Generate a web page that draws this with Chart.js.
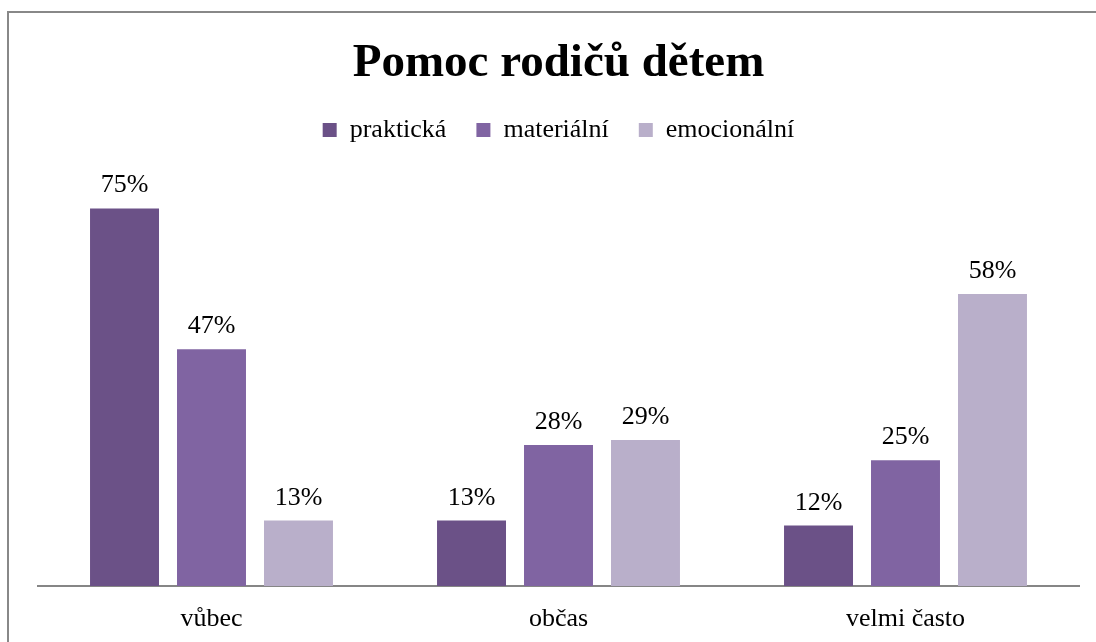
<!DOCTYPE html>
<html>
<head>
<meta charset="utf-8">
<script src="https://cdn.jsdelivr.net/npm/chart.js@4.4.0/dist/chart.umd.min.js"></script>
<style>
  html, body { margin: 0; padding: 0; background: #fff; }
  #wrap { position: relative; width: 1096px; height: 642px; overflow: hidden; }
  #frame { position: absolute; left: 7px; top: 11px; width: 1200px; height: 700px;
           border-left: 2px solid #888; border-top: 2px solid #888; }
  canvas { position: absolute; left: 0; top: 0; }
</style>
</head>
<body>
<div id="wrap">
  <div id="frame"></div>
  <canvas id="chart" width="1096" height="642"></canvas>
</div>
<script>
// Kategorie a hodnoty
const categories = ['vůbec', 'občas', 'velmi často'];
const prakticka = [75, 13, 12];
const materialni = [47, 28, 25];
const emocionalni = [13, 29, 58];
const seriesNames = ['praktická', 'materiální', 'emocionální'];
const seriesColors = ['#6B5187', '#8064A2', '#B9AFCA'];

const serif = '"Liberation Serif", "Times New Roman", serif';

// Popisky hodnot nad sloupci
const valueLabels = {
    id: 'valueLabels',
    afterDatasetsDraw(chart) {
        const ctx = chart.ctx;
        ctx.save();
        ctx.font = '26px ' + serif;
        ctx.fillStyle = '#000';
        ctx.textAlign = 'center';
        ctx.textBaseline = 'alphabetic';
        chart.data.datasets.forEach((ds, i) => {
            chart.getDatasetMeta(i).data.forEach((bar, j) => {
                ctx.fillText(ds.data[j] + '%', bar.x, bar.y - 16);
            });
        });
        ctx.restore();
    }
};

new Chart(document.getElementById('chart'), {
    type: 'bar',
    data: {
        labels: categories,
        datasets: [
            { label: seriesNames[0], data: prakticka, backgroundColor: seriesColors[0] },
            { label: seriesNames[1], data: materialni, backgroundColor: seriesColors[1] },
            { label: seriesNames[2], data: emocionalni, backgroundColor: seriesColors[2] }
        ]
    },
    options: {
        responsive: false,
        animation: false,
        categoryPercentage: 0.752,
        barPercentage: 0.793,
        layout: { padding: { left: 38, right: 17, top: 14, bottom: 0 } },
        scales: {
            x: {
                grid: { display: false, drawTicks: false },
                border: { display: true, color: '#868686', width: 2 },
                ticks: { color: '#000', font: { family: serif, size: 26 }, padding: 18 },
                afterFit: (scale) => { scale.height = 56; }
            },
            y: {
                display: false,
                min: 0,
                max: 86
            }
        },
        plugins: {
            title: {
                display: true,
                text: 'Pomoc rodičů dětem',
                color: '#000',
                font: { family: serif, size: 47, weight: 'bold', lineHeight: 1 },
                padding: { top: 26, bottom: 0 }
            },
            legend: {
                labels: {
                    color: '#000',
                    font: { family: serif, size: 26 },
                    boxWidth: 14,
                    boxHeight: 14,
                    padding: 30
                }
            },
            tooltip: { enabled: false }
        }
    },
    plugins: [valueLabels]
});
</script>
</body>
</html>
